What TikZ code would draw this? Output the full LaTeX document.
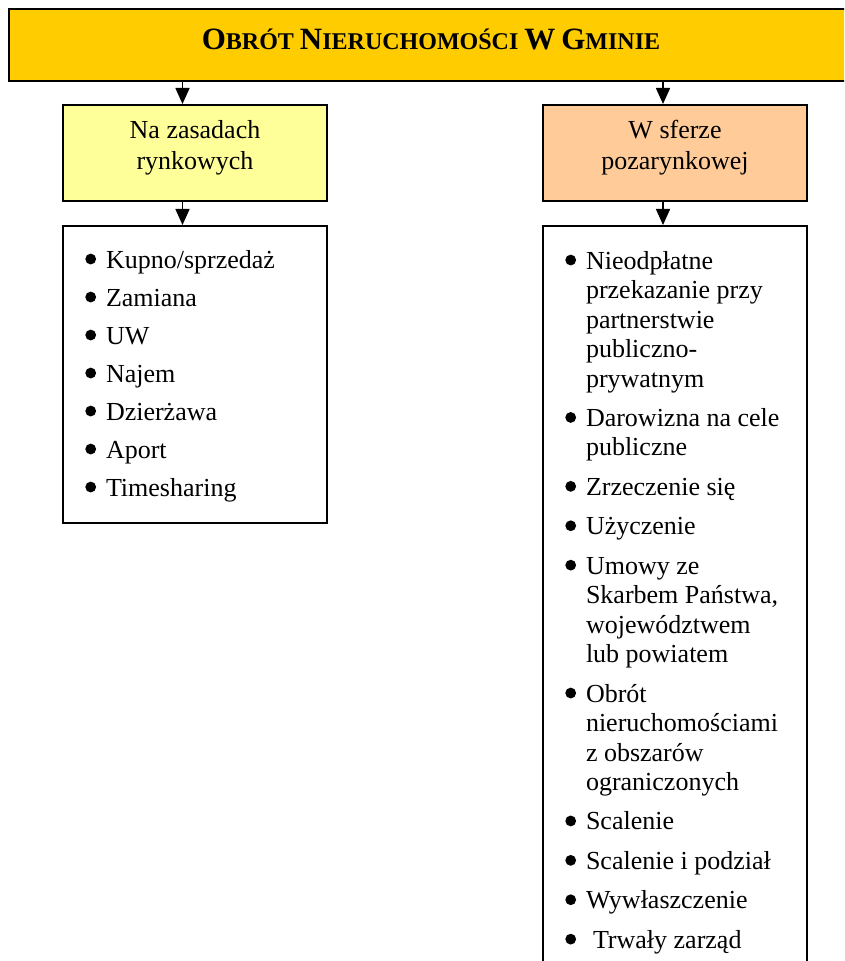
\documentclass[tikz,border=0pt]{standalone}
\usepackage{fontspec}
\setmainfont{Liberation Serif}
\usepackage{array}
\usetikzlibrary{arrows.meta,positioning}

\definecolor{titlegold}{HTML}{FFCC00}
\definecolor{marketyellow}{HTML}{FFFF99}
\definecolor{nonmarketpeach}{HTML}{FFCC99}

\newcommand{\blt}{\tikz[baseline=-4.5pt]\fill (0,0) circle (2.7pt);}
\newcommand{\capl}[1]{{\fontsize{15.5}{18}\selectfont #1}}
\newcommand{\gapL}{\noalign{\vskip4.25pt}}
\newcommand{\gapR}{\noalign{\vskip4.95pt}}
\newcolumntype{B}{@{\hspace{11.15pt}}p{10.35pt}@{}>{\raggedright\arraybackslash}p{110.5pt}@{}}

\begin{document}
\begin{tikzpicture}[
  x=0.5pt,y=-0.5pt,
  titlebox/.style={draw,line width=1pt,fill=titlegold,minimum width=431pt,minimum height=36pt,
    inner sep=0pt,text height=10.3pt,text depth=5.3pt,font=\bfseries\fontsize{12}{14}\selectfont},
  headbox/.style={draw,line width=1pt,minimum width=132pt,minimum height=48pt,inner sep=2pt,
    align=center,text height=24.5pt,text depth=7.5pt,font=\fontsize{13}{15.5}\selectfont},
  listbox/.style={draw,line width=1pt,fill=white,anchor=north,inner xsep=0pt,inner ysep=9.1pt,
    font=\fontsize{13}{14.75}\selectfont},
  arr/.style={-{Triangle[length=8pt,width=7pt]},line width=0.75pt}
]
\useasboundingbox (0,0) rectangle (844,961);
\clip (0,0) rectangle (844,961);

% ---- title ----
\node[titlebox] (topBox) at (440,45) {\hspace*{-9pt}\capl{O}BRÓT \capl{N}IERUCHOMOŚCI \capl{W} \capl{G}MINIE};

% ---- two branches ----
\node[headbox,fill=marketyellow] (rynkBox) at (195,153) {Na zasadach\\rynkowych};
\node[headbox,fill=nonmarketpeach] (pozaBox) at (675,153) {W sferze\\pozarynkowej};

% ---- lists ----
\node[listbox] (rynkList) at (195,225) {%
  \begin{tabular}{B}
  \noalign{\vskip1.6pt}
  \blt & Kupno/sprzedaż \\ \gapL
  \blt & Zamiana \\ \gapL
  \blt & UW \\ \gapL
  \blt & Najem \\ \gapL
  \blt & Dzierżawa \\ \gapL
  \blt & Aport \\ \gapL
  \blt & Timesharing
  \end{tabular}};
\node[listbox,inner ysep=11.2pt] (pozaList) at (675,225) {%
  \begin{tabular}{B}
  \blt & Nieodpłatne\newline przekazanie przy\newline partnerstwie\newline publiczno-\newline prywatnym \\ \gapR
  \blt & Darowizna na cele\newline publiczne \\ \gapR
  \blt & Zrzeczenie się \\ \gapR
  \blt & Użyczenie \\ \gapR
  \blt & Umowy ze\newline Skarbem Państwa,\newline województwem\newline lub powiatem \\ \gapR
  \blt & Obrót\newline nieruchomościami\newline z obszarów\newline ograniczonych \\ \gapR
  \blt & Scalenie \\ \gapR
  \blt & Scalenie i podział \\ \gapR
  \blt & Wywłaszczenie \\ \gapR
  \blt & \hspace{3.5pt}Trwały zarząd \\ \noalign{\vskip30pt}
  \end{tabular}};

% ---- arrows ----
\coordinate (lArr) at (182.5,0);
\coordinate (rArr) at (663,0);
\draw[arr] (lArr |- topBox.south) -- (lArr |- rynkBox.north);
\draw[arr] (rArr |- topBox.south) -- (rArr |- pozaBox.north);
\draw[arr] (lArr |- rynkBox.south) -- (lArr |- rynkList.north);
\draw[arr] (rArr |- pozaBox.south) -- (rArr |- pozaList.north);

\end{tikzpicture}
\end{document}
